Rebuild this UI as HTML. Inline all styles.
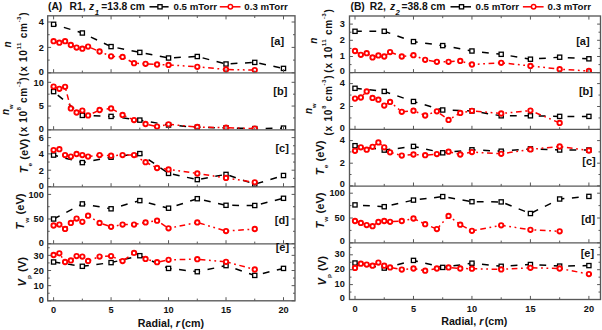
<!DOCTYPE html>
<html><head><meta charset="utf-8">
<style>
html,body{margin:0;padding:0;background:#fff;width:602px;height:330px;overflow:hidden}
svg{display:block}
text{font-family:"Liberation Sans", sans-serif;font-weight:bold;fill:#111}
.tk{font-size:9.5px}
.ti{font-size:10.3px}
.lb{font-size:10px}
.pl{font-size:11px}
.ax{font-size:10.7px}
.lg{font-size:9.7px}
</style></head><body>
<svg width="602" height="330" viewBox="0 0 602 330">
<clipPath id="cL0"><rect x="47.7" y="15.8" width="247.3" height="57"/></clipPath>
<g clip-path="url(#cL0)">
<polyline points="53.6,24.3 82.34,33 111.07,46.6 139.81,52.4 168.55,58 197.29,56.5 226.02,64 254.76,62.4 283.5,68.4" fill="none" stroke="#000000" stroke-width="1.5" stroke-dasharray="6.8 7.6" stroke-dashoffset="3.69"/>
<polyline points="53.6,41.2 59.35,42.7 65.09,41.2 70.84,45 76.59,47.6 82.34,48.7 88.09,46.6 99.58,51.5 111.07,56.3 122.57,56.9 134.06,63.2 145.56,63.8 157.06,64.5 168.55,64.9 197.29,66.8 226.02,69.5 254.76,70.1" fill="none" stroke="#ff0000" stroke-width="1.5" stroke-dasharray="5.7 3.6 1.8 3.6 1.8 3.6" stroke-dashoffset="20.05"/>
<rect x="51.5" y="22.2" width="4.2" height="4.2" fill="#fff" stroke="#000000" stroke-width="1.3"/>
<rect x="80.24" y="30.9" width="4.2" height="4.2" fill="#fff" stroke="#000000" stroke-width="1.3"/>
<rect x="108.97" y="44.5" width="4.2" height="4.2" fill="#fff" stroke="#000000" stroke-width="1.3"/>
<rect x="137.71" y="50.3" width="4.2" height="4.2" fill="#fff" stroke="#000000" stroke-width="1.3"/>
<rect x="166.45" y="55.9" width="4.2" height="4.2" fill="#fff" stroke="#000000" stroke-width="1.3"/>
<rect x="195.19" y="54.4" width="4.2" height="4.2" fill="#fff" stroke="#000000" stroke-width="1.3"/>
<rect x="223.92" y="61.9" width="4.2" height="4.2" fill="#fff" stroke="#000000" stroke-width="1.3"/>
<rect x="252.66" y="60.3" width="4.2" height="4.2" fill="#fff" stroke="#000000" stroke-width="1.3"/>
<rect x="281.4" y="66.3" width="4.2" height="4.2" fill="#fff" stroke="#000000" stroke-width="1.3"/>
<circle cx="53.6" cy="41.2" r="2.2" fill="#fff" stroke="#ff0000" stroke-width="1.9"/>
<circle cx="59.35" cy="42.7" r="2.2" fill="#fff" stroke="#ff0000" stroke-width="1.9"/>
<circle cx="65.09" cy="41.2" r="2.2" fill="#fff" stroke="#ff0000" stroke-width="1.9"/>
<circle cx="70.84" cy="45" r="2.2" fill="#fff" stroke="#ff0000" stroke-width="1.9"/>
<circle cx="76.59" cy="47.6" r="2.2" fill="#fff" stroke="#ff0000" stroke-width="1.9"/>
<circle cx="82.34" cy="48.7" r="2.2" fill="#fff" stroke="#ff0000" stroke-width="1.9"/>
<circle cx="88.09" cy="46.6" r="2.2" fill="#fff" stroke="#ff0000" stroke-width="1.9"/>
<circle cx="99.58" cy="51.5" r="2.2" fill="#fff" stroke="#ff0000" stroke-width="1.9"/>
<circle cx="111.07" cy="56.3" r="2.2" fill="#fff" stroke="#ff0000" stroke-width="1.9"/>
<circle cx="122.57" cy="56.9" r="2.2" fill="#fff" stroke="#ff0000" stroke-width="1.9"/>
<circle cx="134.06" cy="63.2" r="2.2" fill="#fff" stroke="#ff0000" stroke-width="1.9"/>
<circle cx="145.56" cy="63.8" r="2.2" fill="#fff" stroke="#ff0000" stroke-width="1.9"/>
<circle cx="157.06" cy="64.5" r="2.2" fill="#fff" stroke="#ff0000" stroke-width="1.9"/>
<circle cx="168.55" cy="64.9" r="2.2" fill="#fff" stroke="#ff0000" stroke-width="1.9"/>
<circle cx="197.29" cy="66.8" r="2.2" fill="#fff" stroke="#ff0000" stroke-width="1.9"/>
<circle cx="226.02" cy="69.5" r="2.2" fill="#fff" stroke="#ff0000" stroke-width="1.9"/>
<circle cx="254.76" cy="70.1" r="2.2" fill="#fff" stroke="#ff0000" stroke-width="1.9"/>
</g>
<clipPath id="cL1"><rect x="47.7" y="72.8" width="247.3" height="57"/></clipPath>
<g clip-path="url(#cL1)">
<polyline points="53.6,91.6 82.34,115.4 111.07,116.4 139.81,120.1 168.55,125 197.29,127.3 226.02,127.9 254.76,128.6 283.5,128.1" fill="none" stroke="#000000" stroke-width="1.5" stroke-dasharray="6.8 7.6" stroke-dashoffset="8.99"/>
<polyline points="53.6,86.6 59.35,88.8 65.09,86.8 70.84,108.4 76.59,112.5 82.34,110.6 88.09,115.4 99.58,110 111.07,108.4 122.57,114.9 134.06,120.1 145.56,124 157.06,126.6 168.55,124.3 197.29,127 226.02,127.7 254.76,128.6" fill="none" stroke="#ff0000" stroke-width="1.5" stroke-dasharray="5.7 3.6 1.8 3.6 1.8 3.6" stroke-dashoffset="0"/>
<rect x="51.5" y="89.5" width="4.2" height="4.2" fill="#fff" stroke="#000000" stroke-width="1.3"/>
<rect x="80.24" y="113.3" width="4.2" height="4.2" fill="#fff" stroke="#000000" stroke-width="1.3"/>
<rect x="108.97" y="114.3" width="4.2" height="4.2" fill="#fff" stroke="#000000" stroke-width="1.3"/>
<rect x="137.71" y="118" width="4.2" height="4.2" fill="#fff" stroke="#000000" stroke-width="1.3"/>
<rect x="166.45" y="122.9" width="4.2" height="4.2" fill="#fff" stroke="#000000" stroke-width="1.3"/>
<rect x="195.19" y="125.2" width="4.2" height="4.2" fill="#fff" stroke="#000000" stroke-width="1.3"/>
<rect x="223.92" y="125.8" width="4.2" height="4.2" fill="#fff" stroke="#000000" stroke-width="1.3"/>
<rect x="252.66" y="126.5" width="4.2" height="4.2" fill="#fff" stroke="#000000" stroke-width="1.3"/>
<rect x="281.4" y="126" width="4.2" height="4.2" fill="#fff" stroke="#000000" stroke-width="1.3"/>
<circle cx="53.6" cy="86.6" r="2.2" fill="#fff" stroke="#ff0000" stroke-width="1.9"/>
<circle cx="59.35" cy="88.8" r="2.2" fill="#fff" stroke="#ff0000" stroke-width="1.9"/>
<circle cx="65.09" cy="86.8" r="2.2" fill="#fff" stroke="#ff0000" stroke-width="1.9"/>
<circle cx="70.84" cy="108.4" r="2.2" fill="#fff" stroke="#ff0000" stroke-width="1.9"/>
<circle cx="76.59" cy="112.5" r="2.2" fill="#fff" stroke="#ff0000" stroke-width="1.9"/>
<circle cx="82.34" cy="110.6" r="2.2" fill="#fff" stroke="#ff0000" stroke-width="1.9"/>
<circle cx="88.09" cy="115.4" r="2.2" fill="#fff" stroke="#ff0000" stroke-width="1.9"/>
<circle cx="99.58" cy="110" r="2.2" fill="#fff" stroke="#ff0000" stroke-width="1.9"/>
<circle cx="111.07" cy="108.4" r="2.2" fill="#fff" stroke="#ff0000" stroke-width="1.9"/>
<circle cx="122.57" cy="114.9" r="2.2" fill="#fff" stroke="#ff0000" stroke-width="1.9"/>
<circle cx="134.06" cy="120.1" r="2.2" fill="#fff" stroke="#ff0000" stroke-width="1.9"/>
<circle cx="145.56" cy="124" r="2.2" fill="#fff" stroke="#ff0000" stroke-width="1.9"/>
<circle cx="157.06" cy="126.6" r="2.2" fill="#fff" stroke="#ff0000" stroke-width="1.9"/>
<circle cx="168.55" cy="124.3" r="2.2" fill="#fff" stroke="#ff0000" stroke-width="1.9"/>
<circle cx="197.29" cy="127" r="2.2" fill="#fff" stroke="#ff0000" stroke-width="1.9"/>
<circle cx="226.02" cy="127.7" r="2.2" fill="#fff" stroke="#ff0000" stroke-width="1.9"/>
<circle cx="254.76" cy="128.6" r="2.2" fill="#fff" stroke="#ff0000" stroke-width="1.9"/>
</g>
<clipPath id="cL2"><rect x="47.7" y="129.8" width="247.3" height="57"/></clipPath>
<g clip-path="url(#cL2)">
<polyline points="53.6,155.1 82.34,162.6 111.07,157.2 139.81,153.6 168.55,173.4 197.29,179.6 226.02,174.4 254.76,184.2 283.5,175.5" fill="none" stroke="#000000" stroke-width="1.5" stroke-dasharray="6.8 7.6" stroke-dashoffset="2.3"/>
<polyline points="53.6,150.1 59.35,149.2 65.09,155.1 70.84,156.6 76.59,154 82.34,155.1 88.09,156.6 99.58,155.1 111.07,155.7 122.57,155.1 134.06,155.1 145.56,162.2 157.06,168 168.55,169.4 197.29,173.5 226.02,177.9 254.76,182.3" fill="none" stroke="#ff0000" stroke-width="1.5" stroke-dasharray="5.7 3.6 1.8 3.6 1.8 3.6" stroke-dashoffset="3.29"/>
<rect x="51.5" y="153" width="4.2" height="4.2" fill="#fff" stroke="#000000" stroke-width="1.3"/>
<rect x="80.24" y="160.5" width="4.2" height="4.2" fill="#fff" stroke="#000000" stroke-width="1.3"/>
<rect x="108.97" y="155.1" width="4.2" height="4.2" fill="#fff" stroke="#000000" stroke-width="1.3"/>
<rect x="137.71" y="151.5" width="4.2" height="4.2" fill="#fff" stroke="#000000" stroke-width="1.3"/>
<rect x="166.45" y="171.3" width="4.2" height="4.2" fill="#fff" stroke="#000000" stroke-width="1.3"/>
<rect x="195.19" y="177.5" width="4.2" height="4.2" fill="#fff" stroke="#000000" stroke-width="1.3"/>
<rect x="223.92" y="172.3" width="4.2" height="4.2" fill="#fff" stroke="#000000" stroke-width="1.3"/>
<rect x="252.66" y="182.1" width="4.2" height="4.2" fill="#fff" stroke="#000000" stroke-width="1.3"/>
<rect x="281.4" y="173.4" width="4.2" height="4.2" fill="#fff" stroke="#000000" stroke-width="1.3"/>
<circle cx="53.6" cy="150.1" r="2.2" fill="#fff" stroke="#ff0000" stroke-width="1.9"/>
<circle cx="59.35" cy="149.2" r="2.2" fill="#fff" stroke="#ff0000" stroke-width="1.9"/>
<circle cx="65.09" cy="155.1" r="2.2" fill="#fff" stroke="#ff0000" stroke-width="1.9"/>
<circle cx="70.84" cy="156.6" r="2.2" fill="#fff" stroke="#ff0000" stroke-width="1.9"/>
<circle cx="76.59" cy="154" r="2.2" fill="#fff" stroke="#ff0000" stroke-width="1.9"/>
<circle cx="82.34" cy="155.1" r="2.2" fill="#fff" stroke="#ff0000" stroke-width="1.9"/>
<circle cx="88.09" cy="156.6" r="2.2" fill="#fff" stroke="#ff0000" stroke-width="1.9"/>
<circle cx="99.58" cy="155.1" r="2.2" fill="#fff" stroke="#ff0000" stroke-width="1.9"/>
<circle cx="111.07" cy="155.7" r="2.2" fill="#fff" stroke="#ff0000" stroke-width="1.9"/>
<circle cx="122.57" cy="155.1" r="2.2" fill="#fff" stroke="#ff0000" stroke-width="1.9"/>
<circle cx="134.06" cy="155.1" r="2.2" fill="#fff" stroke="#ff0000" stroke-width="1.9"/>
<circle cx="145.56" cy="162.2" r="2.2" fill="#fff" stroke="#ff0000" stroke-width="1.9"/>
<circle cx="157.06" cy="168" r="2.2" fill="#fff" stroke="#ff0000" stroke-width="1.9"/>
<circle cx="168.55" cy="169.4" r="2.2" fill="#fff" stroke="#ff0000" stroke-width="1.9"/>
<circle cx="197.29" cy="173.5" r="2.2" fill="#fff" stroke="#ff0000" stroke-width="1.9"/>
<circle cx="226.02" cy="177.9" r="2.2" fill="#fff" stroke="#ff0000" stroke-width="1.9"/>
<circle cx="254.76" cy="182.3" r="2.2" fill="#fff" stroke="#ff0000" stroke-width="1.9"/>
</g>
<clipPath id="cL3"><rect x="47.7" y="186.8" width="247.3" height="57"/></clipPath>
<g clip-path="url(#cL3)">
<polyline points="53.6,219 82.34,203.9 111.07,208.8 139.81,200.6 168.55,208.2 197.29,198.7 226.02,205.3 254.76,205.5 283.5,198.3" fill="none" stroke="#000000" stroke-width="1.5" stroke-dasharray="6.8 7.6" stroke-dashoffset="0"/>
<polyline points="53.6,225.5 59.35,224.6 65.09,228.9 70.84,222.9 76.59,218.6 82.34,221.8 88.09,215.7 99.58,222.9 111.07,226.8 122.57,224.6 134.06,224.6 145.56,222.4 157.06,220.7 168.55,228.3 197.29,222.4 226.02,231.1 254.76,229" fill="none" stroke="#ff0000" stroke-width="1.5" stroke-dasharray="5.7 3.6 1.8 3.6 1.8 3.6" stroke-dashoffset="0"/>
<rect x="51.5" y="216.9" width="4.2" height="4.2" fill="#fff" stroke="#000000" stroke-width="1.3"/>
<rect x="80.24" y="201.8" width="4.2" height="4.2" fill="#fff" stroke="#000000" stroke-width="1.3"/>
<rect x="108.97" y="206.7" width="4.2" height="4.2" fill="#fff" stroke="#000000" stroke-width="1.3"/>
<rect x="137.71" y="198.5" width="4.2" height="4.2" fill="#fff" stroke="#000000" stroke-width="1.3"/>
<rect x="166.45" y="206.1" width="4.2" height="4.2" fill="#fff" stroke="#000000" stroke-width="1.3"/>
<rect x="195.19" y="196.6" width="4.2" height="4.2" fill="#fff" stroke="#000000" stroke-width="1.3"/>
<rect x="223.92" y="203.2" width="4.2" height="4.2" fill="#fff" stroke="#000000" stroke-width="1.3"/>
<rect x="252.66" y="203.4" width="4.2" height="4.2" fill="#fff" stroke="#000000" stroke-width="1.3"/>
<rect x="281.4" y="196.2" width="4.2" height="4.2" fill="#fff" stroke="#000000" stroke-width="1.3"/>
<circle cx="53.6" cy="225.5" r="2.2" fill="#fff" stroke="#ff0000" stroke-width="1.9"/>
<circle cx="59.35" cy="224.6" r="2.2" fill="#fff" stroke="#ff0000" stroke-width="1.9"/>
<circle cx="65.09" cy="228.9" r="2.2" fill="#fff" stroke="#ff0000" stroke-width="1.9"/>
<circle cx="70.84" cy="222.9" r="2.2" fill="#fff" stroke="#ff0000" stroke-width="1.9"/>
<circle cx="76.59" cy="218.6" r="2.2" fill="#fff" stroke="#ff0000" stroke-width="1.9"/>
<circle cx="82.34" cy="221.8" r="2.2" fill="#fff" stroke="#ff0000" stroke-width="1.9"/>
<circle cx="88.09" cy="215.7" r="2.2" fill="#fff" stroke="#ff0000" stroke-width="1.9"/>
<circle cx="99.58" cy="222.9" r="2.2" fill="#fff" stroke="#ff0000" stroke-width="1.9"/>
<circle cx="111.07" cy="226.8" r="2.2" fill="#fff" stroke="#ff0000" stroke-width="1.9"/>
<circle cx="122.57" cy="224.6" r="2.2" fill="#fff" stroke="#ff0000" stroke-width="1.9"/>
<circle cx="134.06" cy="224.6" r="2.2" fill="#fff" stroke="#ff0000" stroke-width="1.9"/>
<circle cx="145.56" cy="222.4" r="2.2" fill="#fff" stroke="#ff0000" stroke-width="1.9"/>
<circle cx="157.06" cy="220.7" r="2.2" fill="#fff" stroke="#ff0000" stroke-width="1.9"/>
<circle cx="168.55" cy="228.3" r="2.2" fill="#fff" stroke="#ff0000" stroke-width="1.9"/>
<circle cx="197.29" cy="222.4" r="2.2" fill="#fff" stroke="#ff0000" stroke-width="1.9"/>
<circle cx="226.02" cy="231.1" r="2.2" fill="#fff" stroke="#ff0000" stroke-width="1.9"/>
<circle cx="254.76" cy="229" r="2.2" fill="#fff" stroke="#ff0000" stroke-width="1.9"/>
</g>
<clipPath id="cL4"><rect x="47.7" y="243.8" width="247.3" height="57"/></clipPath>
<g clip-path="url(#cL4)">
<polyline points="53.6,262 82.34,266.3 111.07,262.6 139.81,255.7 168.55,268.4 197.29,271.7 226.02,265.6 254.76,275.4 283.5,268.4" fill="none" stroke="#000000" stroke-width="1.5" stroke-dasharray="6.8 7.6" stroke-dashoffset="0"/>
<polyline points="53.6,255 59.35,253.3 65.09,262 70.84,260.4 76.59,256.1 82.34,256.6 88.09,260.9 99.58,256.6 111.07,256.1 122.57,261.1 134.06,252.9 145.56,258.9 157.06,262.2 168.55,259.8 197.29,259.2 226.02,261.8 254.76,269.5" fill="none" stroke="#ff0000" stroke-width="1.5" stroke-dasharray="5.7 3.6 1.8 3.6 1.8 3.6" stroke-dashoffset="0"/>
<rect x="51.5" y="259.9" width="4.2" height="4.2" fill="#fff" stroke="#000000" stroke-width="1.3"/>
<rect x="80.24" y="264.2" width="4.2" height="4.2" fill="#fff" stroke="#000000" stroke-width="1.3"/>
<rect x="108.97" y="260.5" width="4.2" height="4.2" fill="#fff" stroke="#000000" stroke-width="1.3"/>
<rect x="137.71" y="253.6" width="4.2" height="4.2" fill="#fff" stroke="#000000" stroke-width="1.3"/>
<rect x="166.45" y="266.3" width="4.2" height="4.2" fill="#fff" stroke="#000000" stroke-width="1.3"/>
<rect x="195.19" y="269.6" width="4.2" height="4.2" fill="#fff" stroke="#000000" stroke-width="1.3"/>
<rect x="223.92" y="263.5" width="4.2" height="4.2" fill="#fff" stroke="#000000" stroke-width="1.3"/>
<rect x="252.66" y="273.3" width="4.2" height="4.2" fill="#fff" stroke="#000000" stroke-width="1.3"/>
<rect x="281.4" y="266.3" width="4.2" height="4.2" fill="#fff" stroke="#000000" stroke-width="1.3"/>
<circle cx="53.6" cy="255" r="2.2" fill="#fff" stroke="#ff0000" stroke-width="1.9"/>
<circle cx="59.35" cy="253.3" r="2.2" fill="#fff" stroke="#ff0000" stroke-width="1.9"/>
<circle cx="65.09" cy="262" r="2.2" fill="#fff" stroke="#ff0000" stroke-width="1.9"/>
<circle cx="70.84" cy="260.4" r="2.2" fill="#fff" stroke="#ff0000" stroke-width="1.9"/>
<circle cx="76.59" cy="256.1" r="2.2" fill="#fff" stroke="#ff0000" stroke-width="1.9"/>
<circle cx="82.34" cy="256.6" r="2.2" fill="#fff" stroke="#ff0000" stroke-width="1.9"/>
<circle cx="88.09" cy="260.9" r="2.2" fill="#fff" stroke="#ff0000" stroke-width="1.9"/>
<circle cx="99.58" cy="256.6" r="2.2" fill="#fff" stroke="#ff0000" stroke-width="1.9"/>
<circle cx="111.07" cy="256.1" r="2.2" fill="#fff" stroke="#ff0000" stroke-width="1.9"/>
<circle cx="122.57" cy="261.1" r="2.2" fill="#fff" stroke="#ff0000" stroke-width="1.9"/>
<circle cx="134.06" cy="252.9" r="2.2" fill="#fff" stroke="#ff0000" stroke-width="1.9"/>
<circle cx="145.56" cy="258.9" r="2.2" fill="#fff" stroke="#ff0000" stroke-width="1.9"/>
<circle cx="157.06" cy="262.2" r="2.2" fill="#fff" stroke="#ff0000" stroke-width="1.9"/>
<circle cx="168.55" cy="259.8" r="2.2" fill="#fff" stroke="#ff0000" stroke-width="1.9"/>
<circle cx="197.29" cy="259.2" r="2.2" fill="#fff" stroke="#ff0000" stroke-width="1.9"/>
<circle cx="226.02" cy="261.8" r="2.2" fill="#fff" stroke="#ff0000" stroke-width="1.9"/>
<circle cx="254.76" cy="269.5" r="2.2" fill="#fff" stroke="#ff0000" stroke-width="1.9"/>
</g>
<line x1="53.6" y1="72.8" x2="53.6" y2="69.2" stroke="#585858" stroke-width="1"/>
<line x1="53.6" y1="15.8" x2="53.6" y2="19.4" stroke="#585858" stroke-width="1"/>
<line x1="82.34" y1="72.8" x2="82.34" y2="70.6" stroke="#585858" stroke-width="1"/>
<line x1="82.34" y1="15.8" x2="82.34" y2="18" stroke="#585858" stroke-width="1"/>
<line x1="111.07" y1="72.8" x2="111.07" y2="69.2" stroke="#585858" stroke-width="1"/>
<line x1="111.07" y1="15.8" x2="111.07" y2="19.4" stroke="#585858" stroke-width="1"/>
<line x1="139.81" y1="72.8" x2="139.81" y2="70.6" stroke="#585858" stroke-width="1"/>
<line x1="139.81" y1="15.8" x2="139.81" y2="18" stroke="#585858" stroke-width="1"/>
<line x1="168.55" y1="72.8" x2="168.55" y2="69.2" stroke="#585858" stroke-width="1"/>
<line x1="168.55" y1="15.8" x2="168.55" y2="19.4" stroke="#585858" stroke-width="1"/>
<line x1="197.29" y1="72.8" x2="197.29" y2="70.6" stroke="#585858" stroke-width="1"/>
<line x1="197.29" y1="15.8" x2="197.29" y2="18" stroke="#585858" stroke-width="1"/>
<line x1="226.02" y1="72.8" x2="226.02" y2="69.2" stroke="#585858" stroke-width="1"/>
<line x1="226.02" y1="15.8" x2="226.02" y2="19.4" stroke="#585858" stroke-width="1"/>
<line x1="254.76" y1="72.8" x2="254.76" y2="70.6" stroke="#585858" stroke-width="1"/>
<line x1="254.76" y1="15.8" x2="254.76" y2="18" stroke="#585858" stroke-width="1"/>
<line x1="283.5" y1="72.8" x2="283.5" y2="69.2" stroke="#585858" stroke-width="1"/>
<line x1="283.5" y1="15.8" x2="283.5" y2="19.4" stroke="#585858" stroke-width="1"/>
<line x1="47.7" y1="72.8" x2="51.1" y2="72.8" stroke="#585858" stroke-width="1"/>
<line x1="295" y1="72.8" x2="291.6" y2="72.8" stroke="#585858" stroke-width="1"/>
<text transform="translate(43.8,75.1) scale(0.97,1.05)" text-anchor="end" class="tk">0</text>
<line x1="47.7" y1="60.1" x2="49.7" y2="60.1" stroke="#585858" stroke-width="1"/>
<line x1="295" y1="60.1" x2="293" y2="60.1" stroke="#585858" stroke-width="1"/>
<line x1="47.7" y1="47.4" x2="51.1" y2="47.4" stroke="#585858" stroke-width="1"/>
<line x1="295" y1="47.4" x2="291.6" y2="47.4" stroke="#585858" stroke-width="1"/>
<text transform="translate(43.8,50.7) scale(0.97,1.05)" text-anchor="end" class="tk">2</text>
<line x1="47.7" y1="34.7" x2="49.7" y2="34.7" stroke="#585858" stroke-width="1"/>
<line x1="295" y1="34.7" x2="293" y2="34.7" stroke="#585858" stroke-width="1"/>
<line x1="47.7" y1="22" x2="51.1" y2="22" stroke="#585858" stroke-width="1"/>
<line x1="295" y1="22" x2="291.6" y2="22" stroke="#585858" stroke-width="1"/>
<text transform="translate(43.8,25.3) scale(0.97,1.05)" text-anchor="end" class="tk">4</text>
<line x1="53.6" y1="129.8" x2="53.6" y2="126.2" stroke="#585858" stroke-width="1"/>
<line x1="82.34" y1="129.8" x2="82.34" y2="127.6" stroke="#585858" stroke-width="1"/>
<line x1="111.07" y1="129.8" x2="111.07" y2="126.2" stroke="#585858" stroke-width="1"/>
<line x1="139.81" y1="129.8" x2="139.81" y2="127.6" stroke="#585858" stroke-width="1"/>
<line x1="168.55" y1="129.8" x2="168.55" y2="126.2" stroke="#585858" stroke-width="1"/>
<line x1="197.29" y1="129.8" x2="197.29" y2="127.6" stroke="#585858" stroke-width="1"/>
<line x1="226.02" y1="129.8" x2="226.02" y2="126.2" stroke="#585858" stroke-width="1"/>
<line x1="254.76" y1="129.8" x2="254.76" y2="127.6" stroke="#585858" stroke-width="1"/>
<line x1="283.5" y1="129.8" x2="283.5" y2="126.2" stroke="#585858" stroke-width="1"/>
<line x1="47.7" y1="129.8" x2="51.1" y2="129.8" stroke="#585858" stroke-width="1"/>
<line x1="295" y1="129.8" x2="291.6" y2="129.8" stroke="#585858" stroke-width="1"/>
<text transform="translate(43.8,132.1) scale(0.97,1.05)" text-anchor="end" class="tk">0</text>
<line x1="47.7" y1="117.93" x2="49.7" y2="117.93" stroke="#585858" stroke-width="1"/>
<line x1="295" y1="117.93" x2="293" y2="117.93" stroke="#585858" stroke-width="1"/>
<line x1="47.7" y1="106.05" x2="51.1" y2="106.05" stroke="#585858" stroke-width="1"/>
<line x1="295" y1="106.05" x2="291.6" y2="106.05" stroke="#585858" stroke-width="1"/>
<text transform="translate(43.8,109.35) scale(0.97,1.05)" text-anchor="end" class="tk">5</text>
<line x1="47.7" y1="94.18" x2="49.7" y2="94.18" stroke="#585858" stroke-width="1"/>
<line x1="295" y1="94.18" x2="293" y2="94.18" stroke="#585858" stroke-width="1"/>
<line x1="47.7" y1="82.3" x2="51.1" y2="82.3" stroke="#585858" stroke-width="1"/>
<line x1="295" y1="82.3" x2="291.6" y2="82.3" stroke="#585858" stroke-width="1"/>
<text transform="translate(43.8,85.6) scale(0.97,1.05)" text-anchor="end" class="tk">10</text>
<line x1="53.6" y1="186.8" x2="53.6" y2="183.2" stroke="#585858" stroke-width="1"/>
<line x1="82.34" y1="186.8" x2="82.34" y2="184.6" stroke="#585858" stroke-width="1"/>
<line x1="111.07" y1="186.8" x2="111.07" y2="183.2" stroke="#585858" stroke-width="1"/>
<line x1="139.81" y1="186.8" x2="139.81" y2="184.6" stroke="#585858" stroke-width="1"/>
<line x1="168.55" y1="186.8" x2="168.55" y2="183.2" stroke="#585858" stroke-width="1"/>
<line x1="197.29" y1="186.8" x2="197.29" y2="184.6" stroke="#585858" stroke-width="1"/>
<line x1="226.02" y1="186.8" x2="226.02" y2="183.2" stroke="#585858" stroke-width="1"/>
<line x1="254.76" y1="186.8" x2="254.76" y2="184.6" stroke="#585858" stroke-width="1"/>
<line x1="283.5" y1="186.8" x2="283.5" y2="183.2" stroke="#585858" stroke-width="1"/>
<line x1="47.7" y1="186.5" x2="51.1" y2="186.5" stroke="#585858" stroke-width="1"/>
<line x1="295" y1="186.5" x2="291.6" y2="186.5" stroke="#585858" stroke-width="1"/>
<text transform="translate(43.8,188.8) scale(0.97,1.05)" text-anchor="end" class="tk">0</text>
<line x1="47.7" y1="178.35" x2="49.7" y2="178.35" stroke="#585858" stroke-width="1"/>
<line x1="295" y1="178.35" x2="293" y2="178.35" stroke="#585858" stroke-width="1"/>
<line x1="47.7" y1="170.2" x2="51.1" y2="170.2" stroke="#585858" stroke-width="1"/>
<line x1="295" y1="170.2" x2="291.6" y2="170.2" stroke="#585858" stroke-width="1"/>
<text transform="translate(43.8,173.5) scale(0.97,1.05)" text-anchor="end" class="tk">2</text>
<line x1="47.7" y1="162.05" x2="49.7" y2="162.05" stroke="#585858" stroke-width="1"/>
<line x1="295" y1="162.05" x2="293" y2="162.05" stroke="#585858" stroke-width="1"/>
<line x1="47.7" y1="153.9" x2="51.1" y2="153.9" stroke="#585858" stroke-width="1"/>
<line x1="295" y1="153.9" x2="291.6" y2="153.9" stroke="#585858" stroke-width="1"/>
<text transform="translate(43.8,157.2) scale(0.97,1.05)" text-anchor="end" class="tk">4</text>
<line x1="47.7" y1="145.75" x2="49.7" y2="145.75" stroke="#585858" stroke-width="1"/>
<line x1="295" y1="145.75" x2="293" y2="145.75" stroke="#585858" stroke-width="1"/>
<line x1="47.7" y1="137.6" x2="51.1" y2="137.6" stroke="#585858" stroke-width="1"/>
<line x1="295" y1="137.6" x2="291.6" y2="137.6" stroke="#585858" stroke-width="1"/>
<text transform="translate(43.8,140.9) scale(0.97,1.05)" text-anchor="end" class="tk">6</text>
<line x1="53.6" y1="243.8" x2="53.6" y2="240.2" stroke="#585858" stroke-width="1"/>
<line x1="82.34" y1="243.8" x2="82.34" y2="241.6" stroke="#585858" stroke-width="1"/>
<line x1="111.07" y1="243.8" x2="111.07" y2="240.2" stroke="#585858" stroke-width="1"/>
<line x1="139.81" y1="243.8" x2="139.81" y2="241.6" stroke="#585858" stroke-width="1"/>
<line x1="168.55" y1="243.8" x2="168.55" y2="240.2" stroke="#585858" stroke-width="1"/>
<line x1="197.29" y1="243.8" x2="197.29" y2="241.6" stroke="#585858" stroke-width="1"/>
<line x1="226.02" y1="243.8" x2="226.02" y2="240.2" stroke="#585858" stroke-width="1"/>
<line x1="254.76" y1="243.8" x2="254.76" y2="241.6" stroke="#585858" stroke-width="1"/>
<line x1="283.5" y1="243.8" x2="283.5" y2="240.2" stroke="#585858" stroke-width="1"/>
<line x1="47.7" y1="243.6" x2="51.1" y2="243.6" stroke="#585858" stroke-width="1"/>
<line x1="295" y1="243.6" x2="291.6" y2="243.6" stroke="#585858" stroke-width="1"/>
<text transform="translate(43.8,245.9) scale(0.97,1.05)" text-anchor="end" class="tk">0</text>
<line x1="47.7" y1="231.3" x2="49.7" y2="231.3" stroke="#585858" stroke-width="1"/>
<line x1="295" y1="231.3" x2="293" y2="231.3" stroke="#585858" stroke-width="1"/>
<line x1="47.7" y1="219" x2="51.1" y2="219" stroke="#585858" stroke-width="1"/>
<line x1="295" y1="219" x2="291.6" y2="219" stroke="#585858" stroke-width="1"/>
<text transform="translate(43.8,222.3) scale(0.97,1.05)" text-anchor="end" class="tk">50</text>
<line x1="47.7" y1="206.7" x2="49.7" y2="206.7" stroke="#585858" stroke-width="1"/>
<line x1="295" y1="206.7" x2="293" y2="206.7" stroke="#585858" stroke-width="1"/>
<line x1="47.7" y1="194.4" x2="51.1" y2="194.4" stroke="#585858" stroke-width="1"/>
<line x1="295" y1="194.4" x2="291.6" y2="194.4" stroke="#585858" stroke-width="1"/>
<text transform="translate(43.8,197.7) scale(0.97,1.05)" text-anchor="end" class="tk">100</text>
<line x1="53.6" y1="300.8" x2="53.6" y2="297.2" stroke="#585858" stroke-width="1"/>
<line x1="82.34" y1="300.8" x2="82.34" y2="298.6" stroke="#585858" stroke-width="1"/>
<line x1="111.07" y1="300.8" x2="111.07" y2="297.2" stroke="#585858" stroke-width="1"/>
<line x1="139.81" y1="300.8" x2="139.81" y2="298.6" stroke="#585858" stroke-width="1"/>
<line x1="168.55" y1="300.8" x2="168.55" y2="297.2" stroke="#585858" stroke-width="1"/>
<line x1="197.29" y1="300.8" x2="197.29" y2="298.6" stroke="#585858" stroke-width="1"/>
<line x1="226.02" y1="300.8" x2="226.02" y2="297.2" stroke="#585858" stroke-width="1"/>
<line x1="254.76" y1="300.8" x2="254.76" y2="298.6" stroke="#585858" stroke-width="1"/>
<line x1="283.5" y1="300.8" x2="283.5" y2="297.2" stroke="#585858" stroke-width="1"/>
<line x1="47.7" y1="300.8" x2="51.1" y2="300.8" stroke="#585858" stroke-width="1"/>
<line x1="295" y1="300.8" x2="291.6" y2="300.8" stroke="#585858" stroke-width="1"/>
<text transform="translate(43.8,303.1) scale(0.97,1.05)" text-anchor="end" class="tk">0</text>
<line x1="47.7" y1="293.23" x2="49.7" y2="293.23" stroke="#585858" stroke-width="1"/>
<line x1="295" y1="293.23" x2="293" y2="293.23" stroke="#585858" stroke-width="1"/>
<line x1="47.7" y1="285.65" x2="51.1" y2="285.65" stroke="#585858" stroke-width="1"/>
<line x1="295" y1="285.65" x2="291.6" y2="285.65" stroke="#585858" stroke-width="1"/>
<text transform="translate(43.8,288.95) scale(0.97,1.05)" text-anchor="end" class="tk">10</text>
<line x1="47.7" y1="278.07" x2="49.7" y2="278.07" stroke="#585858" stroke-width="1"/>
<line x1="295" y1="278.07" x2="293" y2="278.07" stroke="#585858" stroke-width="1"/>
<line x1="47.7" y1="270.5" x2="51.1" y2="270.5" stroke="#585858" stroke-width="1"/>
<line x1="295" y1="270.5" x2="291.6" y2="270.5" stroke="#585858" stroke-width="1"/>
<text transform="translate(43.8,273.8) scale(0.97,1.05)" text-anchor="end" class="tk">20</text>
<line x1="47.7" y1="262.93" x2="49.7" y2="262.93" stroke="#585858" stroke-width="1"/>
<line x1="295" y1="262.93" x2="293" y2="262.93" stroke="#585858" stroke-width="1"/>
<line x1="47.7" y1="255.35" x2="51.1" y2="255.35" stroke="#585858" stroke-width="1"/>
<line x1="295" y1="255.35" x2="291.6" y2="255.35" stroke="#585858" stroke-width="1"/>
<text transform="translate(43.8,258.65) scale(0.97,1.05)" text-anchor="end" class="tk">30</text>
<line x1="47.7" y1="247.78" x2="49.7" y2="247.78" stroke="#585858" stroke-width="1"/>
<line x1="295" y1="247.78" x2="293" y2="247.78" stroke="#585858" stroke-width="1"/>
<rect x="47.7" y="15.8" width="247.3" height="285" fill="none" stroke="#585858" stroke-width="1.35"/>
<line x1="47.7" y1="72.8" x2="295" y2="72.8" stroke="#585858" stroke-width="1.3"/>
<line x1="47.7" y1="129.8" x2="295" y2="129.8" stroke="#585858" stroke-width="1.3"/>
<line x1="47.7" y1="186.8" x2="295" y2="186.8" stroke="#585858" stroke-width="1.3"/>
<line x1="47.7" y1="243.8" x2="295" y2="243.8" stroke="#585858" stroke-width="1.3"/>
<text transform="translate(53.6,313.3) scale(0.97,1.05)" text-anchor="middle" class="tk">0</text>
<text transform="translate(111.07,313.3) scale(0.97,1.05)" text-anchor="middle" class="tk">5</text>
<text transform="translate(168.55,313.3) scale(0.97,1.05)" text-anchor="middle" class="tk">10</text>
<text transform="translate(226.02,313.3) scale(0.97,1.05)" text-anchor="middle" class="tk">15</text>
<text transform="translate(283.5,313.3) scale(0.97,1.05)" text-anchor="middle" class="tk">20</text>
<clipPath id="cR0"><rect x="349.5" y="16" width="251" height="56.7"/></clipPath>
<g clip-path="url(#cR0)">
<polyline points="355,31.3 384.24,31.3 413.48,41.6 442.71,45.6 471.95,51 501.19,54.3 530.42,59.2 559.66,57.2 588.9,58.8" fill="none" stroke="#000000" stroke-width="1.5" stroke-dasharray="6.8 7.6" stroke-dashoffset="0"/>
<polyline points="355,51 360.85,54.8 366.69,53.2 372.54,57.4 378.39,55.4 384.24,56.5 390.08,52.1 401.78,56.5 413.48,55.2 425.17,59.8 436.87,61.8 448.56,61.8 460.25,60.9 471.95,64.5 501.19,62.8 530.42,65.9 559.66,69.2 588.9,71" fill="none" stroke="#ff0000" stroke-width="1.5" stroke-dasharray="5.7 3.6 1.8 3.6 1.8 3.6" stroke-dashoffset="0"/>
<rect x="352.9" y="29.2" width="4.2" height="4.2" fill="#fff" stroke="#000000" stroke-width="1.3"/>
<rect x="382.14" y="29.2" width="4.2" height="4.2" fill="#fff" stroke="#000000" stroke-width="1.3"/>
<rect x="411.38" y="39.5" width="4.2" height="4.2" fill="#fff" stroke="#000000" stroke-width="1.3"/>
<rect x="440.61" y="43.5" width="4.2" height="4.2" fill="#fff" stroke="#000000" stroke-width="1.3"/>
<rect x="469.85" y="48.9" width="4.2" height="4.2" fill="#fff" stroke="#000000" stroke-width="1.3"/>
<rect x="499.09" y="52.2" width="4.2" height="4.2" fill="#fff" stroke="#000000" stroke-width="1.3"/>
<rect x="528.32" y="57.1" width="4.2" height="4.2" fill="#fff" stroke="#000000" stroke-width="1.3"/>
<rect x="557.56" y="55.1" width="4.2" height="4.2" fill="#fff" stroke="#000000" stroke-width="1.3"/>
<rect x="586.8" y="56.7" width="4.2" height="4.2" fill="#fff" stroke="#000000" stroke-width="1.3"/>
<circle cx="355" cy="51" r="2.2" fill="#fff" stroke="#ff0000" stroke-width="1.9"/>
<circle cx="360.85" cy="54.8" r="2.2" fill="#fff" stroke="#ff0000" stroke-width="1.9"/>
<circle cx="366.69" cy="53.2" r="2.2" fill="#fff" stroke="#ff0000" stroke-width="1.9"/>
<circle cx="372.54" cy="57.4" r="2.2" fill="#fff" stroke="#ff0000" stroke-width="1.9"/>
<circle cx="378.39" cy="55.4" r="2.2" fill="#fff" stroke="#ff0000" stroke-width="1.9"/>
<circle cx="384.24" cy="56.5" r="2.2" fill="#fff" stroke="#ff0000" stroke-width="1.9"/>
<circle cx="390.08" cy="52.1" r="2.2" fill="#fff" stroke="#ff0000" stroke-width="1.9"/>
<circle cx="401.78" cy="56.5" r="2.2" fill="#fff" stroke="#ff0000" stroke-width="1.9"/>
<circle cx="413.48" cy="55.2" r="2.2" fill="#fff" stroke="#ff0000" stroke-width="1.9"/>
<circle cx="425.17" cy="59.8" r="2.2" fill="#fff" stroke="#ff0000" stroke-width="1.9"/>
<circle cx="436.87" cy="61.8" r="2.2" fill="#fff" stroke="#ff0000" stroke-width="1.9"/>
<circle cx="448.56" cy="61.8" r="2.2" fill="#fff" stroke="#ff0000" stroke-width="1.9"/>
<circle cx="460.25" cy="60.9" r="2.2" fill="#fff" stroke="#ff0000" stroke-width="1.9"/>
<circle cx="471.95" cy="64.5" r="2.2" fill="#fff" stroke="#ff0000" stroke-width="1.9"/>
<circle cx="501.19" cy="62.8" r="2.2" fill="#fff" stroke="#ff0000" stroke-width="1.9"/>
<circle cx="530.42" cy="65.9" r="2.2" fill="#fff" stroke="#ff0000" stroke-width="1.9"/>
<circle cx="559.66" cy="69.2" r="2.2" fill="#fff" stroke="#ff0000" stroke-width="1.9"/>
<circle cx="588.9" cy="71" r="2.2" fill="#fff" stroke="#ff0000" stroke-width="1.9"/>
</g>
<clipPath id="cR1"><rect x="349.5" y="72.7" width="251" height="56.7"/></clipPath>
<g clip-path="url(#cR1)">
<polyline points="355,88.3 384.24,91.4 413.48,101.5 442.71,110 471.95,111 501.19,115.8 530.42,115.8 559.66,116.4 588.9,116.4" fill="none" stroke="#000000" stroke-width="1.5" stroke-dasharray="6.8 7.6" stroke-dashoffset="0"/>
<polyline points="355,98.6 360.85,97.5 366.69,91.4 372.54,97.9 378.39,99.7 384.24,105.6 390.08,101.9 401.78,111.8 413.48,110.7 425.17,115.5 436.87,111.3 448.56,119.9 460.25,112.9 471.95,110.8 501.19,113.5 530.42,110.6 559.66,122.9" fill="none" stroke="#ff0000" stroke-width="1.5" stroke-dasharray="5.7 3.6 1.8 3.6 1.8 3.6" stroke-dashoffset="0"/>
<rect x="352.9" y="86.2" width="4.2" height="4.2" fill="#fff" stroke="#000000" stroke-width="1.3"/>
<rect x="382.14" y="89.3" width="4.2" height="4.2" fill="#fff" stroke="#000000" stroke-width="1.3"/>
<rect x="411.38" y="99.4" width="4.2" height="4.2" fill="#fff" stroke="#000000" stroke-width="1.3"/>
<rect x="440.61" y="107.9" width="4.2" height="4.2" fill="#fff" stroke="#000000" stroke-width="1.3"/>
<rect x="469.85" y="108.9" width="4.2" height="4.2" fill="#fff" stroke="#000000" stroke-width="1.3"/>
<rect x="499.09" y="113.7" width="4.2" height="4.2" fill="#fff" stroke="#000000" stroke-width="1.3"/>
<rect x="528.32" y="113.7" width="4.2" height="4.2" fill="#fff" stroke="#000000" stroke-width="1.3"/>
<rect x="557.56" y="114.3" width="4.2" height="4.2" fill="#fff" stroke="#000000" stroke-width="1.3"/>
<rect x="586.8" y="114.3" width="4.2" height="4.2" fill="#fff" stroke="#000000" stroke-width="1.3"/>
<circle cx="355" cy="98.6" r="2.2" fill="#fff" stroke="#ff0000" stroke-width="1.9"/>
<circle cx="360.85" cy="97.5" r="2.2" fill="#fff" stroke="#ff0000" stroke-width="1.9"/>
<circle cx="366.69" cy="91.4" r="2.2" fill="#fff" stroke="#ff0000" stroke-width="1.9"/>
<circle cx="372.54" cy="97.9" r="2.2" fill="#fff" stroke="#ff0000" stroke-width="1.9"/>
<circle cx="378.39" cy="99.7" r="2.2" fill="#fff" stroke="#ff0000" stroke-width="1.9"/>
<circle cx="384.24" cy="105.6" r="2.2" fill="#fff" stroke="#ff0000" stroke-width="1.9"/>
<circle cx="390.08" cy="101.9" r="2.2" fill="#fff" stroke="#ff0000" stroke-width="1.9"/>
<circle cx="401.78" cy="111.8" r="2.2" fill="#fff" stroke="#ff0000" stroke-width="1.9"/>
<circle cx="413.48" cy="110.7" r="2.2" fill="#fff" stroke="#ff0000" stroke-width="1.9"/>
<circle cx="425.17" cy="115.5" r="2.2" fill="#fff" stroke="#ff0000" stroke-width="1.9"/>
<circle cx="436.87" cy="111.3" r="2.2" fill="#fff" stroke="#ff0000" stroke-width="1.9"/>
<circle cx="448.56" cy="119.9" r="2.2" fill="#fff" stroke="#ff0000" stroke-width="1.9"/>
<circle cx="460.25" cy="112.9" r="2.2" fill="#fff" stroke="#ff0000" stroke-width="1.9"/>
<circle cx="471.95" cy="110.8" r="2.2" fill="#fff" stroke="#ff0000" stroke-width="1.9"/>
<circle cx="501.19" cy="113.5" r="2.2" fill="#fff" stroke="#ff0000" stroke-width="1.9"/>
<circle cx="530.42" cy="110.6" r="2.2" fill="#fff" stroke="#ff0000" stroke-width="1.9"/>
<circle cx="559.66" cy="122.9" r="2.2" fill="#fff" stroke="#ff0000" stroke-width="1.9"/>
</g>
<clipPath id="cR2"><rect x="349.5" y="129.4" width="251" height="56.7"/></clipPath>
<g clip-path="url(#cR2)">
<polyline points="355,145.7 384.24,150.1 413.48,146.4 442.71,152.8 471.95,149.8 501.19,151.2 530.42,148.9 559.66,150 588.9,150" fill="none" stroke="#000000" stroke-width="1.5" stroke-dasharray="6.8 7.6" stroke-dashoffset="0"/>
<polyline points="355,150.8 360.85,147.3 366.69,149.7 372.54,146.8 378.39,142.4 384.24,147.3 390.08,152.3 401.78,155.6 413.48,154.5 425.17,155.2 436.87,154.1 448.56,151.7 460.25,154.5 471.95,152.1 501.19,153.8 530.42,149.4 559.66,146.5 588.9,150.5" fill="none" stroke="#ff0000" stroke-width="1.5" stroke-dasharray="5.7 3.6 1.8 3.6 1.8 3.6" stroke-dashoffset="0"/>
<rect x="352.9" y="143.6" width="4.2" height="4.2" fill="#fff" stroke="#000000" stroke-width="1.3"/>
<rect x="382.14" y="148" width="4.2" height="4.2" fill="#fff" stroke="#000000" stroke-width="1.3"/>
<rect x="411.38" y="144.3" width="4.2" height="4.2" fill="#fff" stroke="#000000" stroke-width="1.3"/>
<rect x="440.61" y="150.7" width="4.2" height="4.2" fill="#fff" stroke="#000000" stroke-width="1.3"/>
<rect x="469.85" y="147.7" width="4.2" height="4.2" fill="#fff" stroke="#000000" stroke-width="1.3"/>
<rect x="499.09" y="149.1" width="4.2" height="4.2" fill="#fff" stroke="#000000" stroke-width="1.3"/>
<rect x="528.32" y="146.8" width="4.2" height="4.2" fill="#fff" stroke="#000000" stroke-width="1.3"/>
<rect x="557.56" y="147.9" width="4.2" height="4.2" fill="#fff" stroke="#000000" stroke-width="1.3"/>
<rect x="586.8" y="147.9" width="4.2" height="4.2" fill="#fff" stroke="#000000" stroke-width="1.3"/>
<circle cx="355" cy="150.8" r="2.2" fill="#fff" stroke="#ff0000" stroke-width="1.9"/>
<circle cx="360.85" cy="147.3" r="2.2" fill="#fff" stroke="#ff0000" stroke-width="1.9"/>
<circle cx="366.69" cy="149.7" r="2.2" fill="#fff" stroke="#ff0000" stroke-width="1.9"/>
<circle cx="372.54" cy="146.8" r="2.2" fill="#fff" stroke="#ff0000" stroke-width="1.9"/>
<circle cx="378.39" cy="142.4" r="2.2" fill="#fff" stroke="#ff0000" stroke-width="1.9"/>
<circle cx="384.24" cy="147.3" r="2.2" fill="#fff" stroke="#ff0000" stroke-width="1.9"/>
<circle cx="390.08" cy="152.3" r="2.2" fill="#fff" stroke="#ff0000" stroke-width="1.9"/>
<circle cx="401.78" cy="155.6" r="2.2" fill="#fff" stroke="#ff0000" stroke-width="1.9"/>
<circle cx="413.48" cy="154.5" r="2.2" fill="#fff" stroke="#ff0000" stroke-width="1.9"/>
<circle cx="425.17" cy="155.2" r="2.2" fill="#fff" stroke="#ff0000" stroke-width="1.9"/>
<circle cx="436.87" cy="154.1" r="2.2" fill="#fff" stroke="#ff0000" stroke-width="1.9"/>
<circle cx="448.56" cy="151.7" r="2.2" fill="#fff" stroke="#ff0000" stroke-width="1.9"/>
<circle cx="460.25" cy="154.5" r="2.2" fill="#fff" stroke="#ff0000" stroke-width="1.9"/>
<circle cx="471.95" cy="152.1" r="2.2" fill="#fff" stroke="#ff0000" stroke-width="1.9"/>
<circle cx="501.19" cy="153.8" r="2.2" fill="#fff" stroke="#ff0000" stroke-width="1.9"/>
<circle cx="530.42" cy="149.4" r="2.2" fill="#fff" stroke="#ff0000" stroke-width="1.9"/>
<circle cx="559.66" cy="146.5" r="2.2" fill="#fff" stroke="#ff0000" stroke-width="1.9"/>
<circle cx="588.9" cy="150.5" r="2.2" fill="#fff" stroke="#ff0000" stroke-width="1.9"/>
</g>
<clipPath id="cR3"><rect x="349.5" y="186.1" width="251" height="56.7"/></clipPath>
<g clip-path="url(#cR3)">
<polyline points="355,204.9 384.24,206.7 413.48,200.1 442.71,196.6 471.95,201.7 501.19,201.9 530.42,213.5 559.66,199 588.9,196.4" fill="none" stroke="#000000" stroke-width="1.5" stroke-dasharray="6.8 7.6" stroke-dashoffset="6.37"/>
<polyline points="355,221 360.85,222.9 366.69,225.1 372.54,226.2 378.39,222 384.24,221 390.08,221.8 401.78,221 413.48,218.5 425.17,224.2 436.87,229.1 448.56,215.9 460.25,224.7 471.95,230.8 501.19,225.3 530.42,229.8 559.66,231.3" fill="none" stroke="#ff0000" stroke-width="1.5" stroke-dasharray="5.7 3.6 1.8 3.6 1.8 3.6" stroke-dashoffset="0"/>
<rect x="352.9" y="202.8" width="4.2" height="4.2" fill="#fff" stroke="#000000" stroke-width="1.3"/>
<rect x="382.14" y="204.6" width="4.2" height="4.2" fill="#fff" stroke="#000000" stroke-width="1.3"/>
<rect x="411.38" y="198" width="4.2" height="4.2" fill="#fff" stroke="#000000" stroke-width="1.3"/>
<rect x="440.61" y="194.5" width="4.2" height="4.2" fill="#fff" stroke="#000000" stroke-width="1.3"/>
<rect x="469.85" y="199.6" width="4.2" height="4.2" fill="#fff" stroke="#000000" stroke-width="1.3"/>
<rect x="499.09" y="199.8" width="4.2" height="4.2" fill="#fff" stroke="#000000" stroke-width="1.3"/>
<rect x="528.32" y="211.4" width="4.2" height="4.2" fill="#fff" stroke="#000000" stroke-width="1.3"/>
<rect x="557.56" y="196.9" width="4.2" height="4.2" fill="#fff" stroke="#000000" stroke-width="1.3"/>
<rect x="586.8" y="194.3" width="4.2" height="4.2" fill="#fff" stroke="#000000" stroke-width="1.3"/>
<circle cx="355" cy="221" r="2.2" fill="#fff" stroke="#ff0000" stroke-width="1.9"/>
<circle cx="360.85" cy="222.9" r="2.2" fill="#fff" stroke="#ff0000" stroke-width="1.9"/>
<circle cx="366.69" cy="225.1" r="2.2" fill="#fff" stroke="#ff0000" stroke-width="1.9"/>
<circle cx="372.54" cy="226.2" r="2.2" fill="#fff" stroke="#ff0000" stroke-width="1.9"/>
<circle cx="378.39" cy="222" r="2.2" fill="#fff" stroke="#ff0000" stroke-width="1.9"/>
<circle cx="384.24" cy="221" r="2.2" fill="#fff" stroke="#ff0000" stroke-width="1.9"/>
<circle cx="390.08" cy="221.8" r="2.2" fill="#fff" stroke="#ff0000" stroke-width="1.9"/>
<circle cx="401.78" cy="221" r="2.2" fill="#fff" stroke="#ff0000" stroke-width="1.9"/>
<circle cx="413.48" cy="218.5" r="2.2" fill="#fff" stroke="#ff0000" stroke-width="1.9"/>
<circle cx="425.17" cy="224.2" r="2.2" fill="#fff" stroke="#ff0000" stroke-width="1.9"/>
<circle cx="436.87" cy="229.1" r="2.2" fill="#fff" stroke="#ff0000" stroke-width="1.9"/>
<circle cx="448.56" cy="215.9" r="2.2" fill="#fff" stroke="#ff0000" stroke-width="1.9"/>
<circle cx="460.25" cy="224.7" r="2.2" fill="#fff" stroke="#ff0000" stroke-width="1.9"/>
<circle cx="471.95" cy="230.8" r="2.2" fill="#fff" stroke="#ff0000" stroke-width="1.9"/>
<circle cx="501.19" cy="225.3" r="2.2" fill="#fff" stroke="#ff0000" stroke-width="1.9"/>
<circle cx="530.42" cy="229.8" r="2.2" fill="#fff" stroke="#ff0000" stroke-width="1.9"/>
<circle cx="559.66" cy="231.3" r="2.2" fill="#fff" stroke="#ff0000" stroke-width="1.9"/>
</g>
<clipPath id="cR4"><rect x="349.5" y="242.8" width="251" height="56.7"/></clipPath>
<g clip-path="url(#cR4)">
<polyline points="355,263 384.24,268.1 413.48,260.4 442.71,267.4 471.95,263.2 501.19,266.3 530.42,264.5 559.66,266.1 588.9,265.6" fill="none" stroke="#000000" stroke-width="1.5" stroke-dasharray="6.8 7.6" stroke-dashoffset="0"/>
<polyline points="355,267.9 360.85,263.7 366.69,264.6 372.54,265.7 378.39,262.6 384.24,265.7 390.08,267.4 401.78,269.6 413.48,268.5 425.17,270.7 436.87,268.5 448.56,267.4 460.25,268.5 471.95,268.7 501.19,269.4 530.42,267.8 559.66,268.5 588.9,274.1" fill="none" stroke="#ff0000" stroke-width="1.5" stroke-dasharray="5.7 3.6 1.8 3.6 1.8 3.6" stroke-dashoffset="0"/>
<rect x="352.9" y="260.9" width="4.2" height="4.2" fill="#fff" stroke="#000000" stroke-width="1.3"/>
<rect x="382.14" y="266" width="4.2" height="4.2" fill="#fff" stroke="#000000" stroke-width="1.3"/>
<rect x="411.38" y="258.3" width="4.2" height="4.2" fill="#fff" stroke="#000000" stroke-width="1.3"/>
<rect x="440.61" y="265.3" width="4.2" height="4.2" fill="#fff" stroke="#000000" stroke-width="1.3"/>
<rect x="469.85" y="261.1" width="4.2" height="4.2" fill="#fff" stroke="#000000" stroke-width="1.3"/>
<rect x="499.09" y="264.2" width="4.2" height="4.2" fill="#fff" stroke="#000000" stroke-width="1.3"/>
<rect x="528.32" y="262.4" width="4.2" height="4.2" fill="#fff" stroke="#000000" stroke-width="1.3"/>
<rect x="557.56" y="264" width="4.2" height="4.2" fill="#fff" stroke="#000000" stroke-width="1.3"/>
<rect x="586.8" y="263.5" width="4.2" height="4.2" fill="#fff" stroke="#000000" stroke-width="1.3"/>
<circle cx="355" cy="267.9" r="2.2" fill="#fff" stroke="#ff0000" stroke-width="1.9"/>
<circle cx="360.85" cy="263.7" r="2.2" fill="#fff" stroke="#ff0000" stroke-width="1.9"/>
<circle cx="366.69" cy="264.6" r="2.2" fill="#fff" stroke="#ff0000" stroke-width="1.9"/>
<circle cx="372.54" cy="265.7" r="2.2" fill="#fff" stroke="#ff0000" stroke-width="1.9"/>
<circle cx="378.39" cy="262.6" r="2.2" fill="#fff" stroke="#ff0000" stroke-width="1.9"/>
<circle cx="384.24" cy="265.7" r="2.2" fill="#fff" stroke="#ff0000" stroke-width="1.9"/>
<circle cx="390.08" cy="267.4" r="2.2" fill="#fff" stroke="#ff0000" stroke-width="1.9"/>
<circle cx="401.78" cy="269.6" r="2.2" fill="#fff" stroke="#ff0000" stroke-width="1.9"/>
<circle cx="413.48" cy="268.5" r="2.2" fill="#fff" stroke="#ff0000" stroke-width="1.9"/>
<circle cx="425.17" cy="270.7" r="2.2" fill="#fff" stroke="#ff0000" stroke-width="1.9"/>
<circle cx="436.87" cy="268.5" r="2.2" fill="#fff" stroke="#ff0000" stroke-width="1.9"/>
<circle cx="448.56" cy="267.4" r="2.2" fill="#fff" stroke="#ff0000" stroke-width="1.9"/>
<circle cx="460.25" cy="268.5" r="2.2" fill="#fff" stroke="#ff0000" stroke-width="1.9"/>
<circle cx="471.95" cy="268.7" r="2.2" fill="#fff" stroke="#ff0000" stroke-width="1.9"/>
<circle cx="501.19" cy="269.4" r="2.2" fill="#fff" stroke="#ff0000" stroke-width="1.9"/>
<circle cx="530.42" cy="267.8" r="2.2" fill="#fff" stroke="#ff0000" stroke-width="1.9"/>
<circle cx="559.66" cy="268.5" r="2.2" fill="#fff" stroke="#ff0000" stroke-width="1.9"/>
<circle cx="588.9" cy="274.1" r="2.2" fill="#fff" stroke="#ff0000" stroke-width="1.9"/>
</g>
<line x1="355" y1="72.7" x2="355" y2="69.1" stroke="#585858" stroke-width="1"/>
<line x1="355" y1="16" x2="355" y2="19.6" stroke="#585858" stroke-width="1"/>
<line x1="384.24" y1="72.7" x2="384.24" y2="70.5" stroke="#585858" stroke-width="1"/>
<line x1="384.24" y1="16" x2="384.24" y2="18.2" stroke="#585858" stroke-width="1"/>
<line x1="413.48" y1="72.7" x2="413.48" y2="69.1" stroke="#585858" stroke-width="1"/>
<line x1="413.48" y1="16" x2="413.48" y2="19.6" stroke="#585858" stroke-width="1"/>
<line x1="442.71" y1="72.7" x2="442.71" y2="70.5" stroke="#585858" stroke-width="1"/>
<line x1="442.71" y1="16" x2="442.71" y2="18.2" stroke="#585858" stroke-width="1"/>
<line x1="471.95" y1="72.7" x2="471.95" y2="69.1" stroke="#585858" stroke-width="1"/>
<line x1="471.95" y1="16" x2="471.95" y2="19.6" stroke="#585858" stroke-width="1"/>
<line x1="501.19" y1="72.7" x2="501.19" y2="70.5" stroke="#585858" stroke-width="1"/>
<line x1="501.19" y1="16" x2="501.19" y2="18.2" stroke="#585858" stroke-width="1"/>
<line x1="530.42" y1="72.7" x2="530.42" y2="69.1" stroke="#585858" stroke-width="1"/>
<line x1="530.42" y1="16" x2="530.42" y2="19.6" stroke="#585858" stroke-width="1"/>
<line x1="559.66" y1="72.7" x2="559.66" y2="70.5" stroke="#585858" stroke-width="1"/>
<line x1="559.66" y1="16" x2="559.66" y2="18.2" stroke="#585858" stroke-width="1"/>
<line x1="588.9" y1="72.7" x2="588.9" y2="69.1" stroke="#585858" stroke-width="1"/>
<line x1="588.9" y1="16" x2="588.9" y2="19.6" stroke="#585858" stroke-width="1"/>
<line x1="349.5" y1="72.7" x2="352.9" y2="72.7" stroke="#585858" stroke-width="1"/>
<line x1="600.5" y1="72.7" x2="597.1" y2="72.7" stroke="#585858" stroke-width="1"/>
<text transform="translate(344.8,74.3) scale(0.97,1.05)" text-anchor="end" class="tk">0</text>
<line x1="349.5" y1="64.6" x2="351.5" y2="64.6" stroke="#585858" stroke-width="1"/>
<line x1="600.5" y1="64.6" x2="598.5" y2="64.6" stroke="#585858" stroke-width="1"/>
<line x1="349.5" y1="56.5" x2="352.9" y2="56.5" stroke="#585858" stroke-width="1"/>
<line x1="600.5" y1="56.5" x2="597.1" y2="56.5" stroke="#585858" stroke-width="1"/>
<text transform="translate(344.8,59.1) scale(0.97,1.05)" text-anchor="end" class="tk">1</text>
<line x1="349.5" y1="48.4" x2="351.5" y2="48.4" stroke="#585858" stroke-width="1"/>
<line x1="600.5" y1="48.4" x2="598.5" y2="48.4" stroke="#585858" stroke-width="1"/>
<line x1="349.5" y1="40.3" x2="352.9" y2="40.3" stroke="#585858" stroke-width="1"/>
<line x1="600.5" y1="40.3" x2="597.1" y2="40.3" stroke="#585858" stroke-width="1"/>
<text transform="translate(344.8,42.9) scale(0.97,1.05)" text-anchor="end" class="tk">2</text>
<line x1="349.5" y1="32.2" x2="351.5" y2="32.2" stroke="#585858" stroke-width="1"/>
<line x1="600.5" y1="32.2" x2="598.5" y2="32.2" stroke="#585858" stroke-width="1"/>
<line x1="349.5" y1="24.1" x2="352.9" y2="24.1" stroke="#585858" stroke-width="1"/>
<line x1="600.5" y1="24.1" x2="597.1" y2="24.1" stroke="#585858" stroke-width="1"/>
<text transform="translate(344.8,26.7) scale(0.97,1.05)" text-anchor="end" class="tk">3</text>
<line x1="355" y1="129.4" x2="355" y2="125.8" stroke="#585858" stroke-width="1"/>
<line x1="384.24" y1="129.4" x2="384.24" y2="127.2" stroke="#585858" stroke-width="1"/>
<line x1="413.48" y1="129.4" x2="413.48" y2="125.8" stroke="#585858" stroke-width="1"/>
<line x1="442.71" y1="129.4" x2="442.71" y2="127.2" stroke="#585858" stroke-width="1"/>
<line x1="471.95" y1="129.4" x2="471.95" y2="125.8" stroke="#585858" stroke-width="1"/>
<line x1="501.19" y1="129.4" x2="501.19" y2="127.2" stroke="#585858" stroke-width="1"/>
<line x1="530.42" y1="129.4" x2="530.42" y2="125.8" stroke="#585858" stroke-width="1"/>
<line x1="559.66" y1="129.4" x2="559.66" y2="127.2" stroke="#585858" stroke-width="1"/>
<line x1="588.9" y1="129.4" x2="588.9" y2="125.8" stroke="#585858" stroke-width="1"/>
<line x1="349.5" y1="129.4" x2="352.9" y2="129.4" stroke="#585858" stroke-width="1"/>
<line x1="600.5" y1="129.4" x2="597.1" y2="129.4" stroke="#585858" stroke-width="1"/>
<text transform="translate(344.8,131) scale(0.97,1.05)" text-anchor="end" class="tk">0</text>
<line x1="349.5" y1="117.95" x2="351.5" y2="117.95" stroke="#585858" stroke-width="1"/>
<line x1="600.5" y1="117.95" x2="598.5" y2="117.95" stroke="#585858" stroke-width="1"/>
<line x1="349.5" y1="106.5" x2="352.9" y2="106.5" stroke="#585858" stroke-width="1"/>
<line x1="600.5" y1="106.5" x2="597.1" y2="106.5" stroke="#585858" stroke-width="1"/>
<text transform="translate(344.8,109.1) scale(0.97,1.05)" text-anchor="end" class="tk">2</text>
<line x1="349.5" y1="95.05" x2="351.5" y2="95.05" stroke="#585858" stroke-width="1"/>
<line x1="600.5" y1="95.05" x2="598.5" y2="95.05" stroke="#585858" stroke-width="1"/>
<line x1="349.5" y1="83.6" x2="352.9" y2="83.6" stroke="#585858" stroke-width="1"/>
<line x1="600.5" y1="83.6" x2="597.1" y2="83.6" stroke="#585858" stroke-width="1"/>
<text transform="translate(344.8,86.2) scale(0.97,1.05)" text-anchor="end" class="tk">4</text>
<line x1="355" y1="186.1" x2="355" y2="182.5" stroke="#585858" stroke-width="1"/>
<line x1="384.24" y1="186.1" x2="384.24" y2="183.9" stroke="#585858" stroke-width="1"/>
<line x1="413.48" y1="186.1" x2="413.48" y2="182.5" stroke="#585858" stroke-width="1"/>
<line x1="442.71" y1="186.1" x2="442.71" y2="183.9" stroke="#585858" stroke-width="1"/>
<line x1="471.95" y1="186.1" x2="471.95" y2="182.5" stroke="#585858" stroke-width="1"/>
<line x1="501.19" y1="186.1" x2="501.19" y2="183.9" stroke="#585858" stroke-width="1"/>
<line x1="530.42" y1="186.1" x2="530.42" y2="182.5" stroke="#585858" stroke-width="1"/>
<line x1="559.66" y1="186.1" x2="559.66" y2="183.9" stroke="#585858" stroke-width="1"/>
<line x1="588.9" y1="186.1" x2="588.9" y2="182.5" stroke="#585858" stroke-width="1"/>
<line x1="349.5" y1="185.8" x2="352.9" y2="185.8" stroke="#585858" stroke-width="1"/>
<line x1="600.5" y1="185.8" x2="597.1" y2="185.8" stroke="#585858" stroke-width="1"/>
<text transform="translate(344.8,187.4) scale(0.97,1.05)" text-anchor="end" class="tk">0</text>
<line x1="349.5" y1="174.5" x2="351.5" y2="174.5" stroke="#585858" stroke-width="1"/>
<line x1="600.5" y1="174.5" x2="598.5" y2="174.5" stroke="#585858" stroke-width="1"/>
<line x1="349.5" y1="163.2" x2="352.9" y2="163.2" stroke="#585858" stroke-width="1"/>
<line x1="600.5" y1="163.2" x2="597.1" y2="163.2" stroke="#585858" stroke-width="1"/>
<text transform="translate(344.8,165.8) scale(0.97,1.05)" text-anchor="end" class="tk">2</text>
<line x1="349.5" y1="151.9" x2="351.5" y2="151.9" stroke="#585858" stroke-width="1"/>
<line x1="600.5" y1="151.9" x2="598.5" y2="151.9" stroke="#585858" stroke-width="1"/>
<line x1="349.5" y1="140.6" x2="352.9" y2="140.6" stroke="#585858" stroke-width="1"/>
<line x1="600.5" y1="140.6" x2="597.1" y2="140.6" stroke="#585858" stroke-width="1"/>
<text transform="translate(344.8,143.2) scale(0.97,1.05)" text-anchor="end" class="tk">4</text>
<line x1="355" y1="242.8" x2="355" y2="239.2" stroke="#585858" stroke-width="1"/>
<line x1="384.24" y1="242.8" x2="384.24" y2="240.6" stroke="#585858" stroke-width="1"/>
<line x1="413.48" y1="242.8" x2="413.48" y2="239.2" stroke="#585858" stroke-width="1"/>
<line x1="442.71" y1="242.8" x2="442.71" y2="240.6" stroke="#585858" stroke-width="1"/>
<line x1="471.95" y1="242.8" x2="471.95" y2="239.2" stroke="#585858" stroke-width="1"/>
<line x1="501.19" y1="242.8" x2="501.19" y2="240.6" stroke="#585858" stroke-width="1"/>
<line x1="530.42" y1="242.8" x2="530.42" y2="239.2" stroke="#585858" stroke-width="1"/>
<line x1="559.66" y1="242.8" x2="559.66" y2="240.6" stroke="#585858" stroke-width="1"/>
<line x1="588.9" y1="242.8" x2="588.9" y2="239.2" stroke="#585858" stroke-width="1"/>
<line x1="349.5" y1="242.8" x2="352.9" y2="242.8" stroke="#585858" stroke-width="1"/>
<line x1="600.5" y1="242.8" x2="597.1" y2="242.8" stroke="#585858" stroke-width="1"/>
<text transform="translate(344.8,244.4) scale(0.97,1.05)" text-anchor="end" class="tk">0</text>
<line x1="349.5" y1="230.4" x2="351.5" y2="230.4" stroke="#585858" stroke-width="1"/>
<line x1="600.5" y1="230.4" x2="598.5" y2="230.4" stroke="#585858" stroke-width="1"/>
<line x1="349.5" y1="218" x2="352.9" y2="218" stroke="#585858" stroke-width="1"/>
<line x1="600.5" y1="218" x2="597.1" y2="218" stroke="#585858" stroke-width="1"/>
<text transform="translate(344.8,220.6) scale(0.97,1.05)" text-anchor="end" class="tk">50</text>
<line x1="349.5" y1="205.6" x2="351.5" y2="205.6" stroke="#585858" stroke-width="1"/>
<line x1="600.5" y1="205.6" x2="598.5" y2="205.6" stroke="#585858" stroke-width="1"/>
<line x1="349.5" y1="193.2" x2="352.9" y2="193.2" stroke="#585858" stroke-width="1"/>
<line x1="600.5" y1="193.2" x2="597.1" y2="193.2" stroke="#585858" stroke-width="1"/>
<text transform="translate(344.8,195.8) scale(0.97,1.05)" text-anchor="end" class="tk">100</text>
<line x1="355" y1="299.5" x2="355" y2="295.9" stroke="#585858" stroke-width="1"/>
<line x1="384.24" y1="299.5" x2="384.24" y2="297.3" stroke="#585858" stroke-width="1"/>
<line x1="413.48" y1="299.5" x2="413.48" y2="295.9" stroke="#585858" stroke-width="1"/>
<line x1="442.71" y1="299.5" x2="442.71" y2="297.3" stroke="#585858" stroke-width="1"/>
<line x1="471.95" y1="299.5" x2="471.95" y2="295.9" stroke="#585858" stroke-width="1"/>
<line x1="501.19" y1="299.5" x2="501.19" y2="297.3" stroke="#585858" stroke-width="1"/>
<line x1="530.42" y1="299.5" x2="530.42" y2="295.9" stroke="#585858" stroke-width="1"/>
<line x1="559.66" y1="299.5" x2="559.66" y2="297.3" stroke="#585858" stroke-width="1"/>
<line x1="588.9" y1="299.5" x2="588.9" y2="295.9" stroke="#585858" stroke-width="1"/>
<line x1="349.5" y1="299.5" x2="352.9" y2="299.5" stroke="#585858" stroke-width="1"/>
<line x1="600.5" y1="299.5" x2="597.1" y2="299.5" stroke="#585858" stroke-width="1"/>
<text transform="translate(344.8,301.1) scale(0.97,1.05)" text-anchor="end" class="tk">0</text>
<line x1="349.5" y1="292.05" x2="351.5" y2="292.05" stroke="#585858" stroke-width="1"/>
<line x1="600.5" y1="292.05" x2="598.5" y2="292.05" stroke="#585858" stroke-width="1"/>
<line x1="349.5" y1="284.6" x2="352.9" y2="284.6" stroke="#585858" stroke-width="1"/>
<line x1="600.5" y1="284.6" x2="597.1" y2="284.6" stroke="#585858" stroke-width="1"/>
<text transform="translate(344.8,287.2) scale(0.97,1.05)" text-anchor="end" class="tk">10</text>
<line x1="349.5" y1="277.15" x2="351.5" y2="277.15" stroke="#585858" stroke-width="1"/>
<line x1="600.5" y1="277.15" x2="598.5" y2="277.15" stroke="#585858" stroke-width="1"/>
<line x1="349.5" y1="269.7" x2="352.9" y2="269.7" stroke="#585858" stroke-width="1"/>
<line x1="600.5" y1="269.7" x2="597.1" y2="269.7" stroke="#585858" stroke-width="1"/>
<text transform="translate(344.8,272.3) scale(0.97,1.05)" text-anchor="end" class="tk">20</text>
<line x1="349.5" y1="262.25" x2="351.5" y2="262.25" stroke="#585858" stroke-width="1"/>
<line x1="600.5" y1="262.25" x2="598.5" y2="262.25" stroke="#585858" stroke-width="1"/>
<line x1="349.5" y1="254.8" x2="352.9" y2="254.8" stroke="#585858" stroke-width="1"/>
<line x1="600.5" y1="254.8" x2="597.1" y2="254.8" stroke="#585858" stroke-width="1"/>
<text transform="translate(344.8,257.4) scale(0.97,1.05)" text-anchor="end" class="tk">30</text>
<line x1="349.5" y1="247.35" x2="351.5" y2="247.35" stroke="#585858" stroke-width="1"/>
<line x1="600.5" y1="247.35" x2="598.5" y2="247.35" stroke="#585858" stroke-width="1"/>
<rect x="349.5" y="16" width="251" height="283.5" fill="none" stroke="#585858" stroke-width="1.35"/>
<line x1="349.5" y1="72.7" x2="600.5" y2="72.7" stroke="#585858" stroke-width="1.3"/>
<line x1="349.5" y1="129.4" x2="600.5" y2="129.4" stroke="#585858" stroke-width="1.3"/>
<line x1="349.5" y1="186.1" x2="600.5" y2="186.1" stroke="#585858" stroke-width="1.3"/>
<line x1="349.5" y1="242.8" x2="600.5" y2="242.8" stroke="#585858" stroke-width="1.3"/>
<text transform="translate(355,312.2) scale(0.97,1.05)" text-anchor="middle" class="tk">0</text>
<text transform="translate(413.48,312.2) scale(0.97,1.05)" text-anchor="middle" class="tk">5</text>
<text transform="translate(471.95,312.2) scale(0.97,1.05)" text-anchor="middle" class="tk">10</text>
<text transform="translate(530.42,312.2) scale(0.97,1.05)" text-anchor="middle" class="tk">15</text>
<text transform="translate(588.9,312.2) scale(0.97,1.05)" text-anchor="middle" class="tk">20</text>
<text class="lb" transform="translate(11.0,44.5) rotate(-90)" text-anchor="middle" ><tspan font-style="italic">n</tspan></text>
<text class="lb" transform="translate(27.3,44.2) rotate(-90)" text-anchor="middle" textLength="63.5" lengthAdjust="spacing">(x 10<tspan dy="-6.0" font-size="5.6">11</tspan><tspan dy="6.0"> cm</tspan><tspan dy="-6.0" font-size="5.6">-3</tspan><tspan dy="6.0">)</tspan></text>
<text class="lb" transform="translate(8.8,109.8) rotate(-90)" text-anchor="middle" ><tspan font-style="italic">n</tspan><tspan dy="4.2" font-size="5.8">w</tspan></text>
<text class="lb" transform="translate(27.0,106.9) rotate(-90)" text-anchor="middle" textLength="59" lengthAdjust="spacing">(x 10<tspan dy="-6.0" font-size="5.6">8</tspan><tspan dy="6.0"> cm</tspan><tspan dy="-6.0" font-size="5.6">-3</tspan><tspan dy="6.0">)</tspan></text>
<text class="lb" transform="translate(28.2,156) rotate(-90) scale(1.12,1)" text-anchor="middle" ><tspan font-style="italic">T</tspan><tspan dy="4.2" font-size="5.8">e</tspan><tspan dy="-4.2"> (eV)</tspan></text>
<text class="lb" transform="translate(24.4,211.5) rotate(-90) scale(1.12,1)" text-anchor="middle" ><tspan font-style="italic">T</tspan><tspan dy="4.2" font-size="5.8">w</tspan><tspan dy="-4.2"> (eV)</tspan></text>
<text class="lb" transform="translate(26.3,271.8) rotate(-90) scale(1.12,1)" text-anchor="middle" ><tspan font-style="italic">V</tspan><tspan dy="4.2" font-size="5.8">p</tspan><tspan dy="-4.2"> (V)</tspan></text>
<text class="lb" transform="translate(317.1,40.6) rotate(-90)" text-anchor="middle" ><tspan font-style="italic">n</tspan></text>
<text class="lb" transform="translate(331.6,40.9) rotate(-90)" text-anchor="middle" textLength="63.5" lengthAdjust="spacing">(x 10<tspan dy="-6.0" font-size="5.6">11</tspan><tspan dy="6.0"> cm</tspan><tspan dy="-6.0" font-size="5.6">-3</tspan><tspan dy="6.0">)</tspan></text>
<text class="lb" transform="translate(311.8,108.7) rotate(-90)" text-anchor="middle" ><tspan font-style="italic">n</tspan><tspan dy="4.2" font-size="5.8">w</tspan></text>
<text class="lb" transform="translate(332.0,105.5) rotate(-90)" text-anchor="middle" textLength="60" lengthAdjust="spacing">(x 10<tspan dy="-6.0" font-size="5.6">8</tspan><tspan dy="6.0"> cm</tspan><tspan dy="-6.0" font-size="5.6">-3</tspan><tspan dy="6.0">)</tspan></text>
<text class="lb" transform="translate(323.5,157.8) rotate(-90) scale(1.12,1)" text-anchor="middle" ><tspan font-style="italic">T</tspan><tspan dy="4.2" font-size="5.8">e</tspan><tspan dy="-4.2"> (eV)</tspan></text>
<text class="lb" transform="translate(324.2,210.5) rotate(-90) scale(1.12,1)" text-anchor="middle" ><tspan font-style="italic">T</tspan><tspan dy="4.2" font-size="5.8">w</tspan><tspan dy="-4.2"> (eV)</tspan></text>
<text class="lb" transform="translate(326.3,270.8) rotate(-90) scale(1.12,1)" text-anchor="middle" ><tspan font-style="italic">V</tspan><tspan dy="4.2" font-size="5.8">p</tspan><tspan dy="-4.2"> (V)</tspan></text>
<text class="pl" x="270.7" y="45.4">[a]</text>
<text class="pl" x="273.3" y="95.2">[b]</text>
<text class="pl" x="275.4" y="152.2">[c]</text>
<text class="pl" x="274.8" y="223.5">[d]</text>
<text class="pl" x="275.7" y="251.0">[e]</text>
<text class="pl" x="576.2" y="45.2">[a]</text>
<text class="pl" x="578.9" y="94.6">[b]</text>
<text class="pl" x="582.3" y="165.0">[c]</text>
<text class="pl" x="581.2" y="223.0">[d]</text>
<text class="pl" x="580.7" y="256.7">[e]</text>
<text class="ti" x="48" y="10.4">(A)</text>
<text class="ti" x="69.5" y="10.4">R1,</text>
<text class="ti" x="89" y="10" font-style="italic">z</text>
<text x="94.8" y="14.8" font-style="italic" font-weight="normal" font-size="7.8">1</text>
<text class="ti" x="101.2" y="10.4">=13.8 cm</text>
<line x1="149.5" y1="6.8" x2="168.6" y2="6.8" stroke="#000" stroke-width="1.5"/>
<rect x="157.9" y="4.7" width="4.2" height="4.2" fill="#fff" stroke="#000" stroke-width="1.3"/>
<text class="lg" x="173.5" y="10.4">0.5 mTorr</text>
<line x1="219.8" y1="6.8" x2="240.5" y2="6.8" stroke="#f00" stroke-width="1.5"/>
<circle cx="230.4" cy="6.8" r="2.2" fill="#fff" stroke="#f00" stroke-width="1.5"/>
<text class="lg" x="244.3" y="10.4">0.3 mTorr</text>
<text class="ti" x="350.5" y="10.4">(B)</text>
<text class="ti" x="369.8" y="10.4">R2,</text>
<text class="ti" x="390" y="10" font-style="italic">z</text>
<text x="395.6" y="14.8" font-style="italic" font-weight="normal" font-size="7.8">2</text>
<text class="ti" x="401.6" y="10.4">=38.8 cm</text>
<line x1="450.5" y1="6.8" x2="471" y2="6.8" stroke="#000" stroke-width="1.5"/>
<rect x="459.4" y="4.7" width="4.2" height="4.2" fill="#fff" stroke="#000" stroke-width="1.3"/>
<text class="lg" x="475.5" y="10.4">0.5 mTorr</text>
<line x1="522.9" y1="6.8" x2="543.6" y2="6.8" stroke="#f00" stroke-width="1.5"/>
<circle cx="533.6" cy="6.8" r="2.2" fill="#fff" stroke="#f00" stroke-width="1.5"/>
<text class="lg" x="547.6" y="10.4">0.3 mTorr</text>
<text class="ax" x="137.8" y="327.0">Radial, <tspan font-style="italic">r</tspan><tspan dx="1.4">(cm)</tspan></text>
<text class="ax" x="441.2" y="325.3">Radial, <tspan font-style="italic">r</tspan><tspan dx="1.4">(cm)</tspan></text>
</svg>
</body></html>
